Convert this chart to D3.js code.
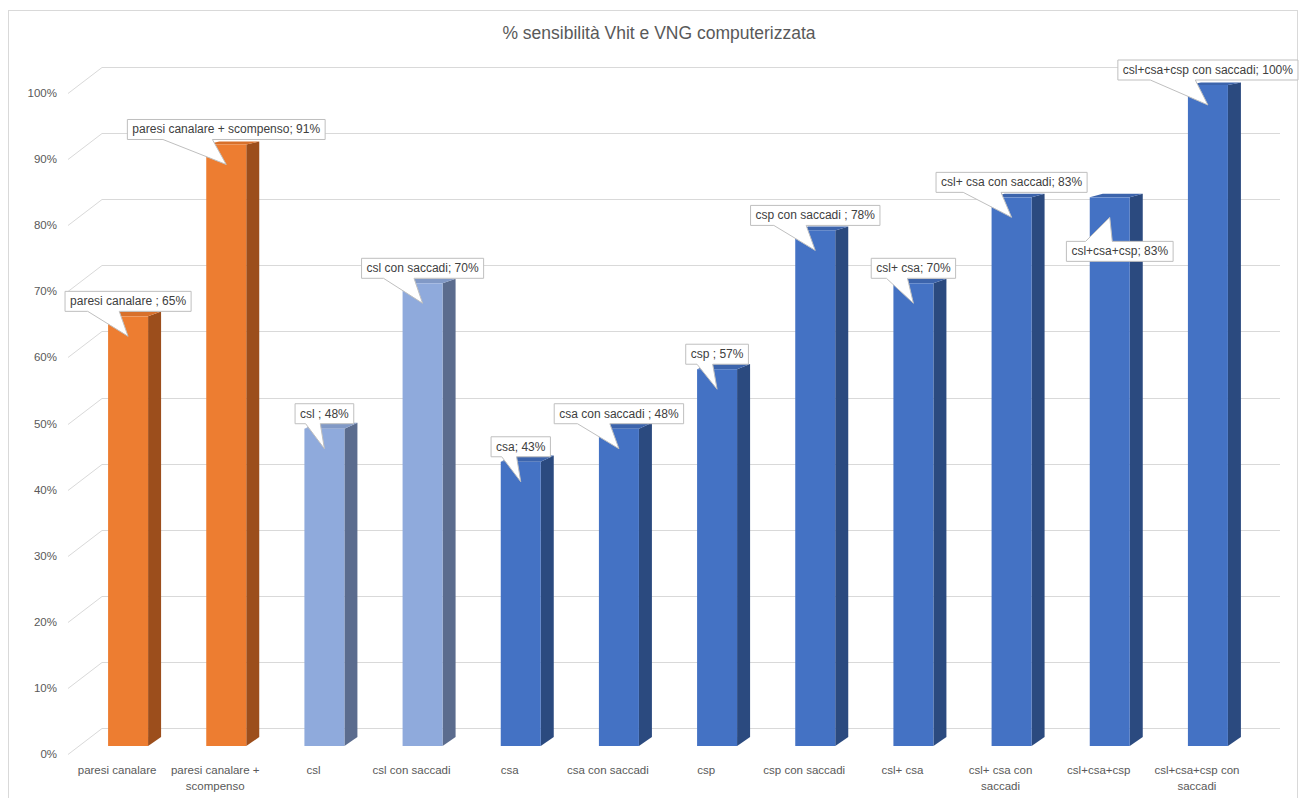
<!DOCTYPE html>
<html>
<head>
<meta charset="utf-8">
<script src="https://cdn.jsdelivr.net/npm/d3@7/dist/d3.min.js"></script>
<style>
  html, body { margin: 0; padding: 0; background: #ffffff; }
  svg { display: block; font-family: "Liberation Sans", Arial, sans-serif; }
</style>
</head>
<body>
<svg id="chart" width="1306" height="798"></svg>
<script>
// ---------- DATA ----------
const chartTitle = "% sensibilità Vhit e VNG computerizzata";
const categories = [
  "paresi canalare", "paresi canalare + scompenso", "csl", "csl con saccadi",
  "csa", "csa con saccadi", "csp", "csp con saccadi",
  "csl+ csa", "csl+ csa con saccadi", "csl+csa+csp", "csl+csa+csp con saccadi"
];
const values = [0.65, 0.91, 0.48, 0.70, 0.43, 0.48, 0.57, 0.78, 0.70, 0.83, 0.83, 1.00];
const groups = ["canale", "canale", "csl", "csl", "altro", "altro", "altro", "altro", "altro", "altro", "altro", "altro"];
const labelSeparators = [" ; ", "; ", " ; ", "; ", "; ", " ; ", " ; ", " ; ", "; ", "; ", "; ", "; "];
const xTickLines = [
  ["paresi canalare"], ["paresi canalare +", "scompenso"], ["csl"], ["csl con saccadi"],
  ["csa"], ["csa con saccadi"], ["csp"], ["csp con saccadi"],
  ["csl+ csa"], ["csl+ csa con", "saccadi"], ["csl+csa+csp"], ["csl+csa+csp con", "saccadi"]
];
const yTicks = [0, 0.1, 0.2, 0.3, 0.4, 0.5, 0.6, 0.7, 0.8, 0.9, 1.0];

// ---------- STYLE / LAYOUT ----------
const palette = {
  canale: { front: "#ED7D31", side: "#9C4E1C", top: "#D8702B" },
  csl:    { front: "#8FAADC", side: "#5B6C8E", top: "#8199C6" },
  altro:  { front: "#4472C4", side: "#2B4A7F", top: "#3C64AC" }
};
const calloutPlacement = ["above","above","above","above","above","above","above","above","above","above","below","above"];
const calloutShift =     [0,0,0,0,0,0,0,0,0,0,10,0];

const svg = d3.select("#chart");

// frame
svg.append("rect").attr("x", 8.5).attr("y", 10.5).attr("width", 1289).attr("height", 800)
  .attr("fill", "#fff").attr("stroke", "#d9d9d9").attr("stroke-width", 1);

// title
svg.append("text").attr("x", 659).attr("y", 33).attr("text-anchor", "middle")
  .attr("dominant-baseline", "central")
  .attr("font-size", 17.5).attr("fill", "#595959").text(chartTitle);

// 3D geometry
const depthX = 34, depthY = 26;
const frontLeft = 68, frontRight = 1246;

const x = d3.scaleBand().domain(categories).range([frontLeft, frontRight]).padding(0);
const yBack = d3.scaleLinear().domain([0, 1]).range([728, 67]);
const yFront = v => yBack(v) + depthY;
const barBaseOffset = 18;
const yBar = v => yBack(v) + barBaseOffset;

// gridlines
const grid = svg.append("g");
yTicks.forEach(t => {
  const yb = Math.round(yBack(t)) + 0.5;
  grid.append("line").attr("x1", frontLeft + depthX).attr("x2", frontRight + depthX)
    .attr("y1", yb).attr("y2", yb).attr("stroke", "#d9d9d9").attr("stroke-width", 1);
  grid.append("line").attr("x1", frontLeft).attr("y1", yb + depthY)
    .attr("x2", frontLeft + depthX).attr("y2", yb)
    .attr("stroke", "#d9d9d9").attr("stroke-width", 1);
});

// y-axis labels
const yAxisG = svg.append("g");
yTicks.forEach(t => {
  yAxisG.append("text").attr("x", 57).attr("y", yFront(t))
    .attr("text-anchor", "end").attr("dominant-baseline", "central")
    .attr("font-size", 11.5).attr("fill", "#595959")
    .text(d3.format(".0%")(t));
});

// bars
const barW = 40, barShift = 11, sideDX = 13;
const sideDY = v => -9 + 6.5 * v;
const barsG = svg.append("g");
const barInfo = [];
categories.forEach((c, i) => {
  const v = values[i];
  const cx = x(c) + x.bandwidth() / 2 + barShift;
  const x0 = cx - barW / 2, x1 = cx + barW / 2;
  const yb0 = yBar(0), yt = yBar(v);
  const col = palette[groups[i]];
  const dyB = sideDY(0), dyT = sideDY(v);
  barsG.append("path")
    .attr("d", `M${x1},${yt} L${x1 + sideDX},${yt + dyT} L${x1 + sideDX},${yb0 + dyB} L${x1},${yb0} Z`)
    .attr("fill", col.side);
  barsG.append("path")
    .attr("d", `M${x0},${yt} L${x0 + sideDX},${yt + dyT} L${x1 + sideDX},${yt + dyT} L${x1},${yt} Z`)
    .attr("fill", col.top);
  barsG.append("rect").attr("x", x0).attr("y", yt).attr("width", barW).attr("height", yb0 - yt)
    .attr("fill", col.front);
  barInfo.push({ cx, yt });
});

// x labels
const xLabG = svg.append("g");
categories.forEach((c, i) => {
  const cx = x(c) + x.bandwidth() / 2;
  xTickLines[i].forEach((line, k) => {
    xLabG.append("text").attr("x", cx).attr("y", 770 + k * 16)
      .attr("text-anchor", "middle").attr("dominant-baseline", "central")
      .attr("font-size", 11.5).attr("fill", "#595959").text(line);
  });
});

// callouts
const callG = svg.append("g");
categories.forEach((c, i) => {
  const label = c + labelSeparators[i] + d3.format(".0%")(values[i]);
  const tipX = barInfo[i].cx, tipY = barInfo[i].yt + 20;
  const g = callG.append("g");
  const path = g.append("path");
  const txt = g.append("text").attr("font-size", 12).attr("fill", "#404040")
    .attr("text-anchor", "middle").attr("dominant-baseline", "central").text(label);
  const tw = txt.node().getComputedTextLength();
  const bw = tw + 10, bh = 20;
  const bcx = tipX + calloutShift[i];
  const L = bcx - bw / 2, R = bcx + bw / 2;
  const baseL = L + 0.18 * bw, baseR = bcx - 0.07 * bw;
  let d, T;
  if (calloutPlacement[i] === "below") {
    T = tipY + 24;
    const B = T + bh;
    d = `M${L},${T} L${baseL},${T} L${tipX},${tipY} L${baseR},${T} L${R},${T} L${R},${B} L${L},${B} Z`;
  } else {
    const B = tipY - 25;
    T = B - bh;
    d = `M${L},${T} L${R},${T} L${R},${B} L${baseR},${B} L${tipX},${tipY} L${baseL},${B} L${L},${B} Z`;
  }
  path.attr("d", d).attr("fill", "#fff").attr("stroke", "#bfbfbf").attr("stroke-width", 1);
  txt.attr("x", bcx).attr("y", T + bh / 2);
});
</script>
</body>
</html>
